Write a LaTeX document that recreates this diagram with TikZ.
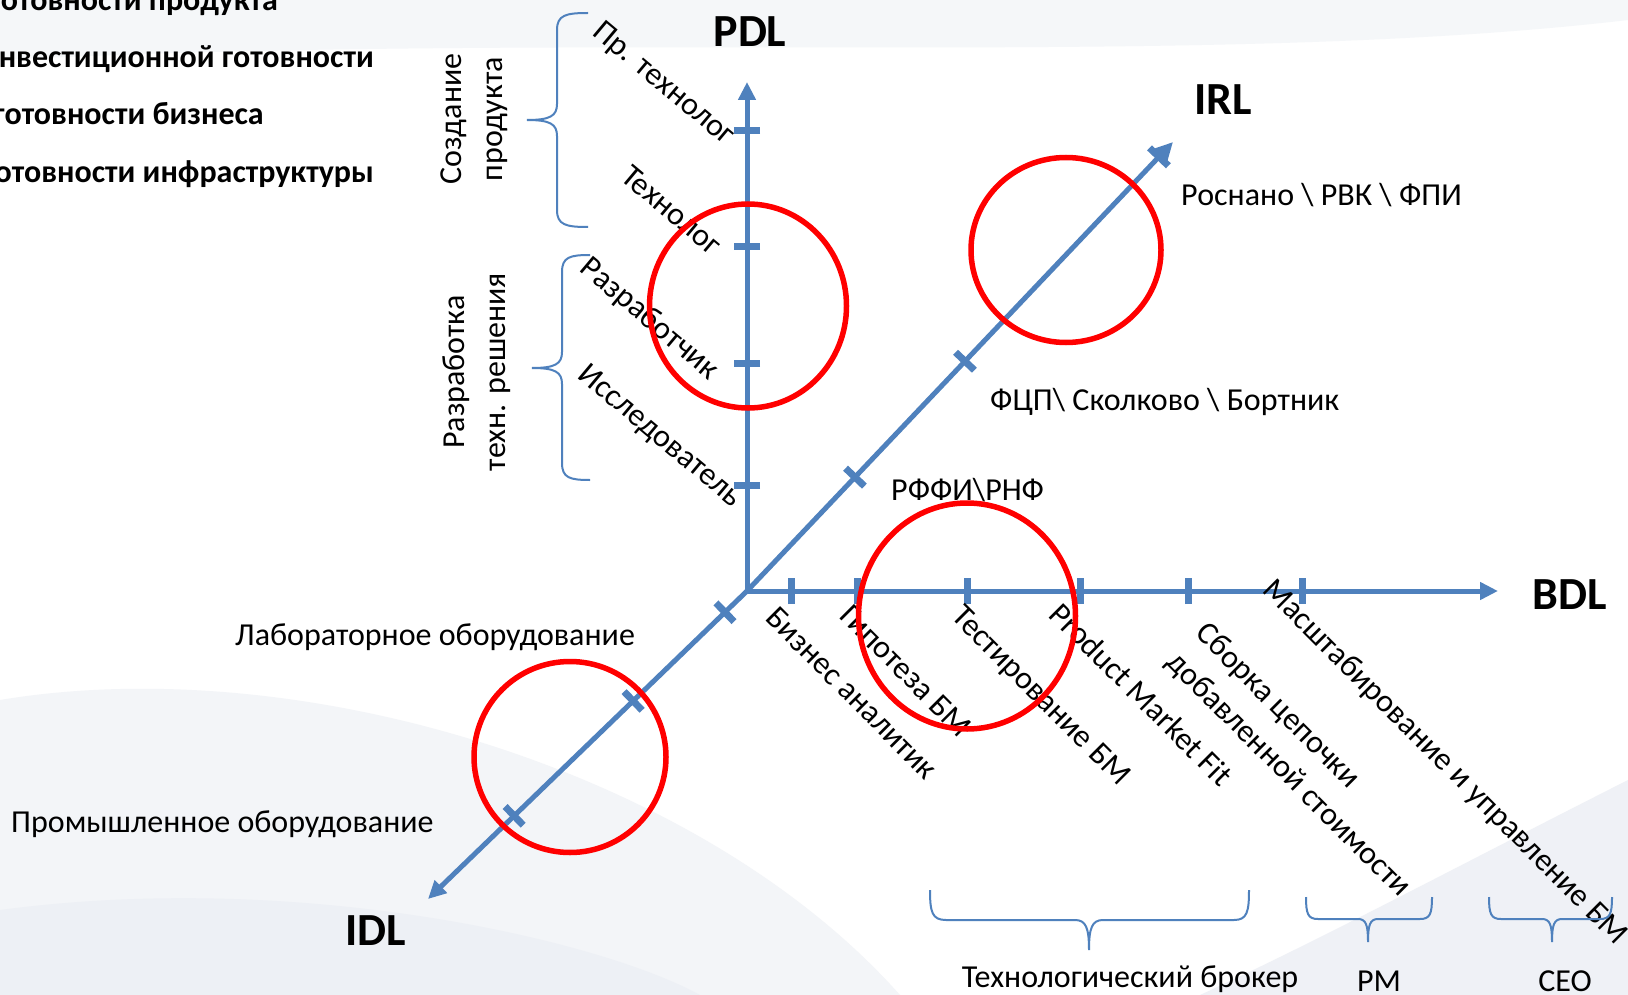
\documentclass[tikz,border=0pt]{standalone}
\usepackage{fontspec}
\setmainfont{Carlito}
\usetikzlibrary{arrows.meta}
\usetikzlibrary{calc}
\usetikzlibrary{positioning}
\usetikzlibrary{shapes.geometric}
\definecolor{axisblue}{RGB}{79,129,189}
\definecolor{haze}{RGB}{214,221,232}

\begin{document}
\begin{tikzpicture}[x=1pt,y=-1pt,%
  every node/.style={font=\fontsize{32}{41}\selectfont,inner sep=2pt},
  axis/.style={draw=axisblue,line width=5pt,-{Triangle[length=18pt,width=17pt]}},
  tick/.style={draw=axisblue,line width=7pt},
  axlabel/.style={font=\fontsize{46}{50}\selectfont\bfseries},
  level/.style={font=\fontsize{32}{38}\selectfont\bfseries,anchor=base east},
  ring/.style={draw=red,line width=5.5pt,ellipse,inner sep=0pt},
  curly/.style={draw=axisblue,line width=2pt}]
  \useasboundingbox (0,0) rectangle (1628,995);
  \clip (0,0) rectangle (1628,995);
  % background
  \fill[white] (0,0) rectangle (1628,995);
  \fill[haze!25] (0,0) -- (1628,0) -- (1628,20) .. controls (1200,70) and (600,30) .. (0,60) -- cycle;
  \fill[haze!30] (0,700) .. controls (300,650) and (700,770) .. (900,995) -- (0,995) -- cycle;
  \fill[haze!45] (0,910) .. controls (300,870) and (600,940) .. (700,995) -- (0,995) -- cycle;
  \fill[haze!40] (1628,780) .. controls (1450,870) and (1320,940) .. (1200,995) -- (1628,995) -- cycle;

  % the axes
  \coordinate (O) at (747,591);
  \coordinate (pdltip) at (747,82);
  \coordinate (irltip) at (1173,142);
  \coordinate (bdltip) at (1498,591);
  \coordinate (idltip) at (428,899);
  \draw[axis] (O) -- (pdltip);
  \draw[axis] (O) -- (irltip);
  \draw[axis] (O) -- (bdltip);
  \draw[axis] (O) -- (idltip);
  \node[axlabel] (pdl) at (750,32) {PDL};
  \node[axlabel] (irl) at (1223,100) {IRL};
  \node[axlabel] (bdl) at (1570,595) {BDL};
  \node[axlabel] (idl) at (376,931) {IDL};

  % the ticks
  \foreach \f [count=\i] in {0.904,0.676,0.446,0.208}
    \coordinate (p\i) at ($(O)!\f!(pdltip)$);
  \foreach \f [count=\i] in {0.0586,0.1465,0.293,0.4434,0.5885,0.739}
    \coordinate (b\i) at ($(O)!\f!(bdltip)$);
  \foreach \f [count=\i] in {0.2535,0.5117,0.967}
    \coordinate (r\i) at ($(O)!\f!(irltip)$);
  \foreach \f [count=\i] in {0.069,0.357,0.73}
    \coordinate (d\i) at ($(O)!\f!(idltip)$);
  \foreach \t in {p1,p2,p3,p4,b1,b2,b3,b4,b5,b6,r1,r2,r3,d1,d2,d3}
    \draw[tick] ($(\t)!13pt!90:(O)$) -- ($(\t)!13pt!-90:(O)$);

  % PDL roles
  \node[rotate=-40,anchor=west] (prtech) at (595,27) {Пр. технолог};
  \node[rotate=-40,anchor=west] (tech) at (624,170) {Технолог};
  \node[rotate=-40,anchor=west] (dev) at (582,263) {Разработчик};
  \node[rotate=-40,anchor=west] (res) at (580,370) {Исследователь};

  % BDL stages
  \node[rotate=-45,anchor=west] (analyst) at (770,611) {Бизнес аналитик};
  \node[rotate=-45,anchor=west] (hypo) at (844,609) {Гипотеза БМ};
  \node[rotate=-45,anchor=west] (testing) at (954,611) {Тестирование БМ};
  \node[rotate=-45,anchor=west] (pmf) at (1054,607) {Product Market Fit};
  \node[rotate=-45,anchor=west,align=left] (chain) at (1184,642) {Сборка цепочки\\добавленной стоимости};
  \node[rotate=-45,anchor=west] (scale) at (1266,584) {Масштабирование и управление БМ};

  % IRL and IDL labels
  \node[anchor=west] (rosnano) at (1179,195) {Роснано \textbackslash{} РВК \textbackslash{} ФПИ};
  \node[anchor=west] (fcp) at (988,402) {ФЦП\textbackslash{} Сколково \textbackslash{} Бортник};
  \node[anchor=west] (rffi) at (889,490) {РФФИ\textbackslash{}РНФ};
  \node[anchor=west] (lab) at (233,637) {Лабораторное оборудование};
  \node[anchor=west] (ind) at (9,824) {Промышленное оборудование};

  % readiness levels
  \node[level] (lvl1) at (280,11) {готовности продукта};
  \node[level] (lvl2) at (376,68) {инвестиционной готовности};
  \node[level] (lvl3) at (266,125) {готовности бизнеса};
  \node[level] (lvl4) at (376,183) {готовности инфраструктуры};

  % braces
  \draw[curly] (588,13) .. controls (566,13) and (557,15) .. (557,30) -- (557,104)
    .. controls (557,116) and (550,120) .. (527,120) .. controls (550,120) and (557,124) .. (557,136)
    -- (557,210) .. controls (557,225) and (566,227) .. (588,227);
  \draw[curly] (590,255) .. controls (570,255) and (562,257) .. (562,272) -- (562,352)
    .. controls (562,364) and (555,368) .. (532,368) .. controls (555,368) and (562,372) .. (562,384)
    -- (562,463) .. controls (562,478) and (570,480) .. (590,480);
  \draw[curly] (930,890) .. controls (930,912) and (932,920) .. (946,920) -- (1075,920)
    .. controls (1086,920) and (1089,928) .. (1089,950) .. controls (1089,928) and (1092,920) .. (1103,920)
    -- (1234,920) .. controls (1247,920) and (1249,912) .. (1249,890);
  \draw[curly] (1306,897) .. controls (1306,914) and (1308,919) .. (1318,919) -- (1358,919)
    .. controls (1366,919) and (1368,925) .. (1368,942) .. controls (1368,925) and (1370,919) .. (1378,919)
    -- (1420,919) .. controls (1430,919) and (1432,914) .. (1432,897);
  \draw[curly] (1489,897) .. controls (1489,914) and (1491,919) .. (1501,919) -- (1542,919)
    .. controls (1550,919) and (1552,925) .. (1552,942) .. controls (1552,925) and (1554,919) .. (1562,919)
    -- (1600,919) .. controls (1610,919) and (1612,914) .. (1612,897);
  \node[rotate=90,align=center] (create) at (474,119) {Создание\\продукта};
  \node[rotate=90,align=center] (design) at (477,372) {Разработка\\техн. решения};
  \node (broker) at (1130,979) {Технологический брокер};
  \node (pm) at (1379,981) {PM};
  \node (ceo) at (1565,981) {CEO};

  % the highlights
  \node[ring,minimum width=197pt,minimum height=204pt] (c1) at (748,306) {};
  \node[ring,minimum width=190pt,minimum height=185pt] (c2) at (1066,250) {};
  \node[ring,minimum width=217pt,minimum height=226pt] (c3) at (967,616) {};
  \node[ring,minimum width=192pt,minimum height=191pt] (c4) at (570,757) {};
\end{tikzpicture}
\end{document}
